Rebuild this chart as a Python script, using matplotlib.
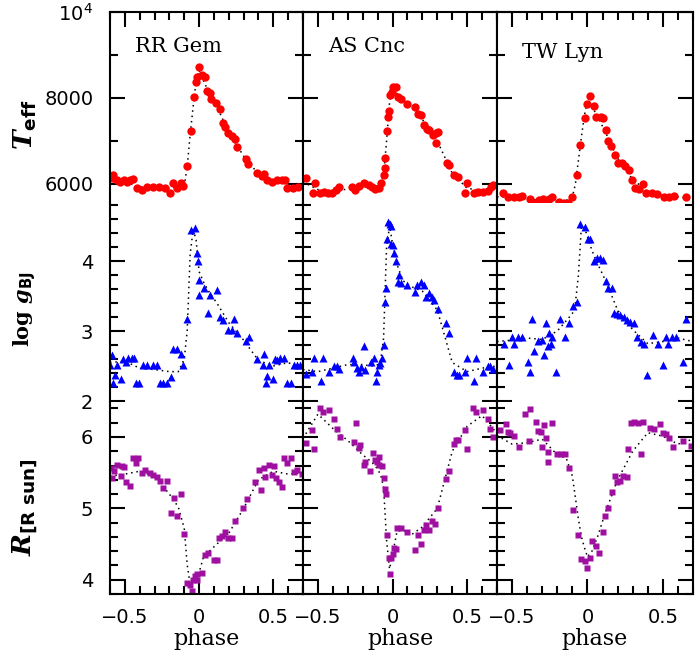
import matplotlib
matplotlib.use('Agg')
import matplotlib.pyplot as plt
from matplotlib.ticker import FixedLocator, FixedFormatter, MultipleLocator

# ---- data (phase, value) ----
rr_teff_ph = [-0.589, -0.58, -0.555, -0.533, -0.506, -0.483, -0.465, -0.447, -0.42, -0.387, -0.353, -0.308,
              -0.268, -0.23, -0.196, -0.174, -0.151, -0.122, -0.106, -0.079, -0.057, -0.032, -0.023, -0.012,
              -0.001, 0.017, 0.04, 0.055, 0.073, 0.078, 0.114, 0.141, 0.159, 0.174, 0.197, 0.219, 0.242, 0.257,
              0.316, 0.331, 0.392, 0.421, 0.439, 0.455, 0.489, 0.523, 0.556, 0.578, 0.594, 0.634, 0.668]
rr_teff = [6133, 6209, 6093, 6054, 6093, 6054, 6093, 6110, 5900, 5860, 5937, 5922,
           5937, 5900, 5798, 6016, 5900, 6016, 5953, 6419, 7233, 8030, 8379, 8495,
           8714, 8535, 8495, 8170, 8109, 7970, 7877, 7737, 7426, 7333, 7193, 7116, 7040, 6867,
           6574, 6465, 6249, 6186, 6233, 6093, 6054, 6093, 6093, 6093, 5900, 5900, 5937]

as_teff_ph = [-0.582, -0.531, -0.519, -0.486, -0.457, -0.43, -0.403, -0.38, -0.362, -0.272, -0.25, -0.223,
              -0.194, -0.16, -0.138, -0.12, -0.093, -0.075, -0.059, -0.052, -0.048, -0.036, -0.03, -0.021,
              -0.019, -0.003, 0.004, 0.024, 0.038, 0.06, 0.098, 0.15, 0.172, 0.188, 0.21, 0.233, 0.244, 0.271,
              0.289, 0.294, 0.307, 0.368, 0.379, 0.412, 0.442, 0.486, 0.502, 0.547, 0.576, 0.607, 0.637,
              0.659, 0.671]
as_teff = [6133, 5798, 6016, 5784, 5821, 5798, 5798, 5860, 5937, 5922, 5860, 5953,
           6030, 5977, 5937, 5876, 5900, 6030, 6209, 6365, 6598, 7240, 7565, 7698,
           8070, 8147, 8249, 8249, 8030, 7970, 7860, 7784, 7628, 7605, 7372, 7272, 7256, 7140,
           6961, 7179, 7218, 6496, 6442, 6209, 6170, 5798, 6016, 5798, 5821, 5821, 5845,
           5937, 5977]

tw_teff_ph = [-0.557, -0.524, -0.49, -0.457, -0.434, -0.378, -0.366, -0.344, -0.322, -0.295, -0.272, -0.255,
              -0.236, -0.187, -0.153, -0.131, -0.102, -0.07, -0.048, -0.016, -0.001, 0.02, 0.045, 0.055,
              0.087, 0.105, 0.122, 0.138, 0.154, 0.183, 0.205, 0.228, 0.25, 0.273, 0.295, 0.318, 0.341,
              0.37, 0.385, 0.43, 0.464, 0.509, 0.543, 0.576, 0.655]
tw_teff = [5784, 5691, 5705, 5705, 5721, 5644, 5551, 5551, 5628, 5644, 5551, 5644,
           5705, 5589, 5551, 5551, 5705, 6209, 6907, 7528, 7860, 8053, 7814, 7565,
           7551, 7528, 7256, 7007, 6884, 6674, 6496, 6481, 6419, 6326, 6093, 5900, 5877,
           6000, 5798, 5784, 5767, 5691, 5705, 5721, 5691]

rr_logg_ph = [-0.6, -0.589, -0.578, -0.566, -0.555, -0.528, -0.51, -0.492, -0.477, -0.454, -0.438, -0.425,
              -0.403, -0.38, -0.353, -0.308, -0.281, -0.263, -0.241, -0.218, -0.191, -0.174, -0.151, -0.124,
              -0.106, -0.079, -0.057, -0.028, -0.016, -0.009, 0.0, 0.001, 0.033, 0.062, 0.073, 0.118, 0.141,
              0.159, 0.197, 0.219, 0.235, 0.257, 0.316, 0.338, 0.392, 0.428, 0.437, 0.449, 0.459, 0.473,
              0.496, 0.511, 0.527, 0.545, 0.572, 0.594, 0.617, 0.639, 0.661, 0.68]
rr_logg = [2.51, 2.66, 2.26, 2.37, 2.51, 2.31, 2.6, 2.56, 2.61, 2.61, 2.61, 2.26,
           2.26, 2.51, 2.51, 2.51, 2.51, 2.26, 2.26, 2.26, 2.35, 2.75, 2.75, 2.67,
           2.52, 3.17, 4.45, 4.47, 4.12, 4.0, 3.73, 3.51, 3.61, 3.26, 3.51, 3.58, 3.2,
           3.16, 3.01, 3.02, 3.17, 2.97, 2.86, 2.91, 2.6, 2.51, 2.67, 2.26, 2.36, 2.51,
           2.31, 2.6, 2.58, 2.61, 2.61, 2.26, 2.26, 2.51, 2.51, 2.51]

as_logg_ph = [-0.582, -0.537, -0.524, -0.479, -0.463, -0.423, -0.389, -0.373, -0.356, -0.268, -0.255, -0.238,
              -0.223, -0.209, -0.194, -0.182, -0.142, -0.127, -0.11, -0.104, -0.093, -0.081, -0.07, -0.059,
              -0.052, -0.043, -0.036, -0.03, -0.019, -0.009, -0.007, 0.001, 0.013, 0.024, 0.042, 0.038, 0.06,
              0.098, 0.15, 0.166, 0.188, 0.21, 0.226, 0.244, 0.267, 0.278, 0.307, 0.361, 0.379, 0.412, 0.435,
              0.446, 0.486, 0.502, 0.543, 0.558, 0.603, 0.637, 0.653, 0.671]
as_logg = [2.39, 2.42, 2.62, 2.28, 2.62, 2.42, 2.5, 2.5, 2.46, 2.61, 2.56, 2.47,
           2.42, 2.49, 2.78, 2.45, 2.56, 2.62, 2.28, 2.42, 2.51, 2.55, 2.61, 2.8,
           3.42, 3.61, 4.31, 4.56, 4.53, 4.5, 4.25, 4.23, 4.12, 4.0, 3.8, 3.7, 3.68,
           3.66, 3.56, 3.66, 3.7, 3.66, 3.49, 3.55, 3.49, 3.45, 3.31, 3.11, 2.97, 2.42, 2.37,
           2.37, 2.42, 2.62, 2.28, 2.62, 2.42, 2.5, 2.5, 2.46]

tw_logg_ph = [-0.551, -0.519, -0.501, -0.486, -0.461, -0.434, -0.393, -0.382, -0.366, -0.356, -0.326, -0.304,
              -0.288, -0.272, -0.265, -0.254, -0.243, -0.236, -0.209, -0.182, -0.147, -0.124, -0.097, -0.07,
              -0.048, -0.019, 0.004, 0.019, 0.042, 0.06, 0.082, 0.1, 0.122, 0.138, 0.161, 0.176, 0.199, 0.217,
              0.24, 0.262, 0.284, 0.311, 0.329, 0.352, 0.374, 0.392, 0.437, 0.469, 0.504, 0.52, 0.536, 0.558,
              0.587, 0.632, 0.655]
tw_logg = [2.81, 2.51, 2.92, 2.81, 2.92, 2.92, 2.56, 2.42, 3.17, 2.72, 2.86, 2.87,
           2.66, 3.12, 2.78, 2.97, 2.81, 2.92, 2.42, 3.17, 2.92, 3.12, 3.36, 3.42,
           4.53, 4.49, 4.31, 4.31, 4.0, 4.05, 4.04, 4.02, 3.72, 3.62, 3.61, 3.26, 3.24, 3.23,
           3.2, 3.16, 3.13, 3.12, 2.92, 2.85, 2.81, 2.37, 2.94, 2.81, 2.51, 2.92, 2.81, 2.92,
           2.92, 2.56, 3.17]

rr_rad_ph = [-0.595, -0.589, -0.573, -0.551, -0.528, -0.521, -0.506, -0.492, -0.465, -0.447, -0.425, -0.409,
             -0.387, -0.364, -0.331, -0.308, -0.286, -0.263, -0.241, -0.214, -0.191, -0.169, -0.147, -0.124,
             -0.102, -0.079, -0.061, -0.046, -0.039, -0.028, -0.016, -0.016, 0.017, 0.04, 0.062, 0.1, 0.123,
             0.136, 0.152, 0.174, 0.197, 0.219, 0.242, 0.293, 0.32, 0.376, 0.405, 0.417, 0.437, 0.444, 0.473,
             0.489, 0.504, 0.518, 0.54, 0.556, 0.572, 0.594, 0.617, 0.639, 0.661, 0.69]
rr_rad = [5.56, 5.43, 5.52, 5.61, 5.46, 5.6, 5.58, 5.37, 5.31, 5.7, 5.63, 5.7,
          5.5, 5.54, 5.49, 5.47, 5.44, 5.38, 5.29, 5.38, 4.93, 5.14, 4.89, 5.2,
          4.64, 3.95, 3.93, 3.84, 4.0, 4.05, 4.08, 4.0, 4.09, 4.34, 4.37, 4.27, 4.28,
          4.58, 4.61, 4.67, 4.58, 4.58, 4.82, 5.0, 5.13, 5.37, 5.54, 5.26, 5.56, 5.44, 5.61,
          5.47, 5.59, 5.42, 5.37, 5.3, 5.7, 5.63, 5.7, 5.51, 5.54, 5.48]

as_rad_ph = [-0.582, -0.537, -0.524, -0.486, -0.463, -0.425, -0.389, -0.373, -0.355, -0.261, -0.245, -0.227,
             -0.216, -0.194, -0.182, -0.149, -0.133, -0.115, -0.104, -0.093, -0.088, -0.07, -0.059, -0.052,
             -0.043, -0.036, -0.025, -0.014, -0.007, 0.001, 0.008, 0.02, 0.031, 0.06, 0.098, 0.15, 0.172,
             0.188, 0.21, 0.226, 0.244, 0.267, 0.284, 0.307, 0.361, 0.379, 0.412, 0.424, 0.442, 0.486, 0.502,
             0.536, 0.558, 0.603, 0.637, 0.653, 0.671]
as_rad = [5.91, 6.1, 5.83, 6.4, 6.35, 6.38, 6.25, 6.11, 6.0, 5.93, 6.19, 5.85,
          5.89, 5.61, 5.65, 5.52, 5.77, 5.68, 5.65, 5.72, 5.61, 5.6, 5.43, 5.27,
          5.2, 4.63, 4.3, 4.08, 4.3, 4.36, 4.45, 4.43, 4.73, 4.72, 4.67, 4.42, 4.62,
          4.5, 4.7, 4.77, 4.69, 4.82, 4.78, 5.0, 5.41, 5.52, 5.9, 5.96, 5.96, 6.1, 5.83,
          6.4, 6.35, 6.38, 6.25, 6.11, 6.0]

tw_rad_ph = [-0.58, -0.542, -0.524, -0.512, -0.49, -0.456, -0.411, -0.378, -0.389, -0.344, -0.326, -0.31,
             -0.304, -0.288, -0.272, -0.265, -0.259, -0.232, -0.205, -0.176, -0.147, -0.12, -0.093, -0.063,
             -0.041, -0.019, -0.003, 0.015, 0.033, 0.055, 0.078, 0.1, 0.116, 0.139, 0.161, 0.183, 0.199,
             0.213, 0.235, 0.262, 0.267, 0.289, 0.311, 0.334, 0.352, 0.37, 0.415, 0.442, 0.482, 0.504, 0.52,
             0.543, 0.566, 0.633, 0.69]
tw_rad = [6.1, 6.18, 6.07, 6.05, 6.02, 5.86, 6.32, 6.39, 5.94, 6.21, 6.08, 6.07,
          5.86, 6.17, 5.98, 5.79, 5.65, 6.19, 5.76, 5.76, 5.76, 5.57, 4.98, 4.63,
          4.29, 4.26, 4.16, 4.31, 4.54, 4.47, 4.37, 4.67, 4.89, 5.0, 5.23, 5.46, 5.37,
          5.38, 5.46, 5.44, 5.83, 6.19, 6.21, 6.19, 5.76, 6.21, 6.13, 6.11, 6.18, 6.05, 6.04,
          5.99, 5.86, 5.94, 5.88]

# dotted fit curves, sampled at these phases
fit_ph = [-0.6, -0.5, -0.4, -0.3, -0.2, -0.14, -0.1, -0.08, -0.06, -0.04, -0.02, 0.0, 0.03, 0.07,
          0.12, 0.2, 0.3, 0.4, 0.5, 0.6, 0.7]
rr_teff_fit = [6070, 6050, 5930, 5920, 5910, 5930, 5960, 6400, 7150, 7800, 8400, 8650, 8400, 8100,
               7800, 7200, 6650, 6230, 6080, 6000, 5950]
as_teff_fit = [6050, 5870, 5840, 5880, 5930, 5950, 5950, 6000, 6200, 7000, 7900, 8200, 8100, 7950,
               7820, 7500, 7000, 6250, 5900, 5850, 5960]
tw_teff_fit = [5700, 5700, 5650, 5620, 5600, 5620, 5700, 6000, 6550, 7100, 7600, 7950, 7800, 7550,
               7200, 6600, 6100, 5830, 5730, 5700, 5650]
rr_logg_fit = [2.55, 2.57, 2.47, 2.45, 2.42, 2.42, 2.6, 3.0, 4.1, 4.45, 4.3, 3.85, 3.7, 3.55,
               3.4, 3.12, 2.87, 2.58, 2.5, 2.55, 2.45]
as_logg_fit = [2.45, 2.42, 2.47, 2.52, 2.52, 2.5, 2.52, 2.58, 2.9, 4.2, 4.5, 4.25, 3.95, 3.72,
               3.64, 3.57, 3.3, 2.55, 2.42, 2.47, 2.5]
tw_logg_fit = [2.85, 2.87, 2.9, 2.88, 3.0, 3.15, 3.25, 3.4, 3.8, 4.5, 4.48, 4.35, 4.15, 3.95,
               3.72, 3.3, 3.02, 2.82, 2.85, 2.9, 2.85]
rr_rad_fit = [5.45, 5.48, 5.52, 5.45, 5.2, 5.02, 4.72, 4.21, 3.93, 3.98, 4.04, 4.1, 4.32, 4.4,
              4.5, 4.65, 5.0, 5.4, 5.52, 5.48, 5.5]
as_rad_fit = [5.98, 6.32, 6.12, 5.95, 5.75, 5.65, 5.55, 5.47, 5.3, 4.55, 4.15, 4.35, 4.68, 4.7,
              4.62, 4.74, 5.0, 5.8, 6.15, 6.3, 6.05]
tw_rad_fit = [6.02, 5.9, 5.92, 5.97, 5.75, 5.7, 5.45, 5.15, 4.85, 4.6, 4.45, 4.32, 4.4, 4.62,
              4.95, 5.4, 5.8, 6.06, 6.01, 5.9, 5.97]

stars = ['RR Gem', 'AS Cnc', 'TW Lyn']

plt.rcParams['mathtext.fontset'] = 'custom'
plt.rcParams['mathtext.it'] = 'DejaVu Serif:italic:bold'
plt.rcParams['mathtext.rm'] = 'DejaVu Serif:bold'
plt.rcParams['mathtext.bf'] = 'DejaVu Sans:bold'
plt.rcParams['axes.linewidth'] = 1.5

W, H = 697, 666
fig = plt.figure(figsize=(W / 100, H / 100), dpi=100)

col_x = [110, 303, 497]
col_w = [193, 194, 196]
row_y = [(12, 203), (203, 402), (402, 594)]

teff_sets = [(rr_teff_ph, rr_teff, rr_teff_fit), (as_teff_ph, as_teff, as_teff_fit),
             (tw_teff_ph, tw_teff, tw_teff_fit)]
logg_sets = [(rr_logg_ph, rr_logg, rr_logg_fit), (as_logg_ph, as_logg, as_logg_fit),
             (tw_logg_ph, tw_logg, tw_logg_fit)]
rad_sets = [(rr_rad_ph, rr_rad, rr_rad_fit), (as_rad_ph, as_rad, as_rad_fit),
            (tw_rad_ph, tw_rad, tw_rad_fit)]

row_info = [
    dict(sets=teff_sets, ylim=(5558, 10000), major=[6000, 8000, 10000],
         labels=['6000', '8000', r'$\mathregular{10^4}$'], minor=1000,
         style=dict(marker='o', color='red', ms=6.0)),
    dict(sets=logg_sets, ylim=(1.986, 4.83), major=[2, 3, 4],
         labels=['2', '3', '4'], minor=0.2,
         style=dict(marker='^', color='blue', ms=5.6)),
    dict(sets=rad_sets, ylim=(3.80, 6.49), major=[4, 5, 6],
         labels=['4', '5', '6'], minor=0.2,
         style=dict(marker='s', color='#a010a0', ms=4.8)),
]

ylabels = [r'$T_{\mathbf{eff}}$', r'$\mathrm{log}\ g_{\mathbf{BJ}}$', r'$R_{\mathbf{[R\ sun]}}$']
ylabel_size = [19, 15, 19]
ylabel_y = [125, 309, 507]

for c in range(3):
    for r in range(3):
        y0, y1 = row_y[r]
        ax = fig.add_axes([col_x[c] / W, 1 - y1 / H, col_w[c] / W, (y1 - y0) / H])
        info = row_info[r]
        ph, val, fit = info['sets'][c]
        ax.plot(fit_ph, fit, color='black', ls=(0, (1, 2.5)), lw=1.1, zorder=1)
        ax.plot(ph, val, ls='none', mec='none', zorder=2, **info['style'])
        ax.set_xlim(-0.6, 0.7)
        ax.set_ylim(*info['ylim'])

        ax.xaxis.set_major_locator(FixedLocator([-0.5, 0, 0.5]))
        ax.xaxis.set_major_formatter(FixedFormatter(['\u22120.5', '0', '0.5']))
        ax.xaxis.set_minor_locator(MultipleLocator(0.1))
        ax.yaxis.set_major_locator(FixedLocator(info['major']))
        ax.yaxis.set_major_formatter(FixedFormatter(info['labels']))
        ax.yaxis.set_minor_locator(MultipleLocator(info['minor']))

        ax.tick_params(which='both', direction='in', width=1.5, labelsize=14, right=True,
                       top=(r == 0), bottom=(r == 2), labelbottom=(r == 2), labelleft=(c == 0))
        ax.tick_params(which='major', length=11)
        ax.tick_params(which='minor', length=6)
        ax.tick_params(axis='y', pad=12)
        ax.tick_params(axis='x', pad=10)

        if r > 0:
            ax.spines['top'].set_visible(False)
        if r < 2:
            ax.spines['bottom'].set_visible(False)

        if r == 0:
            ty = [0.82, 0.82, 0.79][c]
            ax.text(0.13, ty, stars[c], transform=ax.transAxes, fontsize=15,
                    family='DejaVu Serif', va='center', ha='left')
        if r == 2:
            ax.set_xlabel('phase', fontsize=16, family='DejaVu Serif', labelpad=1)

for r in range(3):
    fig.text(25 / W, 1 - ylabel_y[r] / H, ylabels[r], rotation=90, ha='center', va='center',
             fontsize=ylabel_size[r])

fig.savefig('out.png', dpi=100)
